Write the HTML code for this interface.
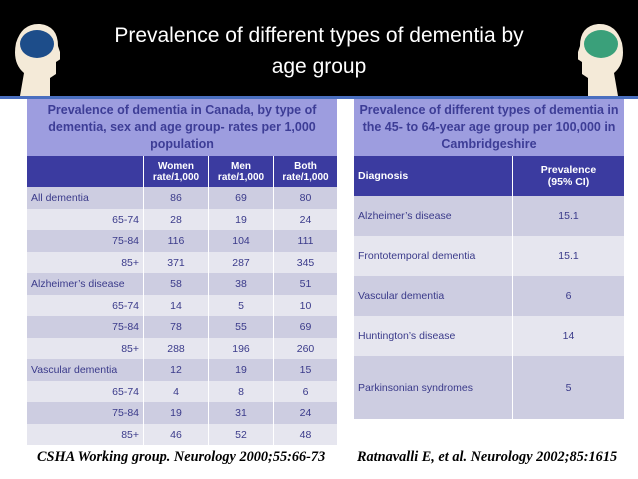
<!DOCTYPE html>
<html><head><meta charset="utf-8"><style>
body{margin:0;width:638px;height:479px;overflow:hidden;background:#fff;font-family:"Liberation Sans",sans-serif;position:relative}
.hdr{position:absolute;left:0;top:0;width:638px;height:96px;background:#000}
.line{position:absolute;left:0;top:96px;width:638px;height:3px;background:#4a6fc0}
.title{position:absolute;left:90px;width:458px;top:20px;text-align:center;color:#fff;font-size:21px;line-height:31px}
table{position:absolute;border-collapse:collapse;font-size:10.5px;color:#3a3a8a}
td{padding:0 4px;border-right:1px solid #fff}
.tt{background:#9d9ddf;font-weight:bold;font-size:12.5px;text-align:center;color:#3d3d96;line-height:17px}
.th{background:#3b3ba0;color:#fff;font-weight:bold;text-align:center}
.d td{background:#cdcde1}.l td{background:#e6e6ef}
.c{text-align:center}.r{text-align:right}
.cite{position:absolute;top:449px;font-family:"Liberation Serif",serif;font-style:italic;font-weight:bold;font-size:14.3px;color:#000}
.head{position:absolute;top:18px;width:50px;height:78px}
</style></head><body>
<div class="hdr"></div>
<svg class="head" style="left:10px" viewBox="0 0 50 78"><path d="M10 78 L14 55 Q2 45 6 25 Q12 5 30 6 Q48 8 48 28 L52 40 L46 44 L46 56 L40 60 L40 78Z" fill="#f4ead8"/><ellipse cx="27" cy="26" rx="17" ry="14" fill="#1d4d8a"/></svg>
<svg class="head" style="left:578px" viewBox="0 0 50 78"><path d="M40 78 L36 55 Q48 45 44 25 Q38 5 20 6 Q2 8 2 28 L-2 40 L4 44 L4 56 L10 60 L10 78Z" fill="#f4ead8"/><ellipse cx="23" cy="26" rx="17" ry="14" fill="#3aa07a"/></svg>
<div class="title">Prevalence of different types of dementia by<br>age group</div>
<div class="line"></div>

<table style="left:27px;top:99px;width:311px">
<tr><td colspan="4" class="tt" style="height:57px">Prevalence of dementia in Canada, by type of dementia, sex and age group- rates per 1,000 population</td></tr>
<tr class="th" style="height:31px"><td style="width:108px;background:#3b3ba0"></td><td class="th" style="width:56px;font-size:10px">Women<br>rate/1,000</td><td class="th" style="width:56px;font-size:10px">Men<br>rate/1,000</td><td class="th" style="font-size:10px">Both<br>rate/1,000</td></tr>
<tr class="d" style="height:22px"><td>All dementia</td><td class="c">86</td><td class="c">69</td><td class="c">80</td></tr>
<tr class="l" style="height:21px"><td class="r">65-74</td><td class="c">28</td><td class="c">19</td><td class="c">24</td></tr>
<tr class="d" style="height:22px"><td class="r">75-84</td><td class="c">116</td><td class="c">104</td><td class="c">111</td></tr>
<tr class="l" style="height:21px"><td class="r">85+</td><td class="c">371</td><td class="c">287</td><td class="c">345</td></tr>
<tr class="d" style="height:22px"><td>Alzheimer’s disease</td><td class="c">58</td><td class="c">38</td><td class="c">51</td></tr>
<tr class="l" style="height:21px"><td class="r">65-74</td><td class="c">14</td><td class="c">5</td><td class="c">10</td></tr>
<tr class="d" style="height:22px"><td class="r">75-84</td><td class="c">78</td><td class="c">55</td><td class="c">69</td></tr>
<tr class="l" style="height:21px"><td class="r">85+</td><td class="c">288</td><td class="c">196</td><td class="c">260</td></tr>
<tr class="d" style="height:22px"><td>Vascular dementia</td><td class="c">12</td><td class="c">19</td><td class="c">15</td></tr>
<tr class="l" style="height:21px"><td class="r">65-74</td><td class="c">4</td><td class="c">8</td><td class="c">6</td></tr>
<tr class="d" style="height:22px"><td class="r">75-84</td><td class="c">19</td><td class="c">31</td><td class="c">24</td></tr>
<tr class="l" style="height:21px"><td class="r">85+</td><td class="c">46</td><td class="c">52</td><td class="c">48</td></tr>
</table>

<table style="left:354px;top:99px;width:271px">
<tr><td colspan="2" class="tt" style="height:57px">Prevalence of different types of dementia in the 45- to 64-year age group per 100,000 in Cambridgeshire</td></tr>
<tr style="height:40px"><td class="th" style="width:150px;text-align:left;font-size:10.5px">Diagnosis</td><td class="th" style="font-size:10.5px">Prevalence<br>(95% CI)</td></tr>
<tr class="d" style="height:40px"><td>Alzheimer’s disease</td><td class="c">15.1</td></tr>
<tr class="l" style="height:40px"><td>Frontotemporal dementia</td><td class="c">15.1</td></tr>
<tr class="d" style="height:40px"><td>Vascular dementia</td><td class="c">6</td></tr>
<tr class="l" style="height:40px"><td>Huntington’s disease</td><td class="c">14</td></tr>
<tr class="d" style="height:63px"><td>Parkinsonian syndromes</td><td class="c">5</td></tr>
</table>

<div class="cite" style="left:37px">CSHA Working group. Neurology 2000;55:66-73</div>
<div class="cite" style="left:357px">Ratnavalli E, et al. Neurology 2002;85:1615</div>
</body></html>
